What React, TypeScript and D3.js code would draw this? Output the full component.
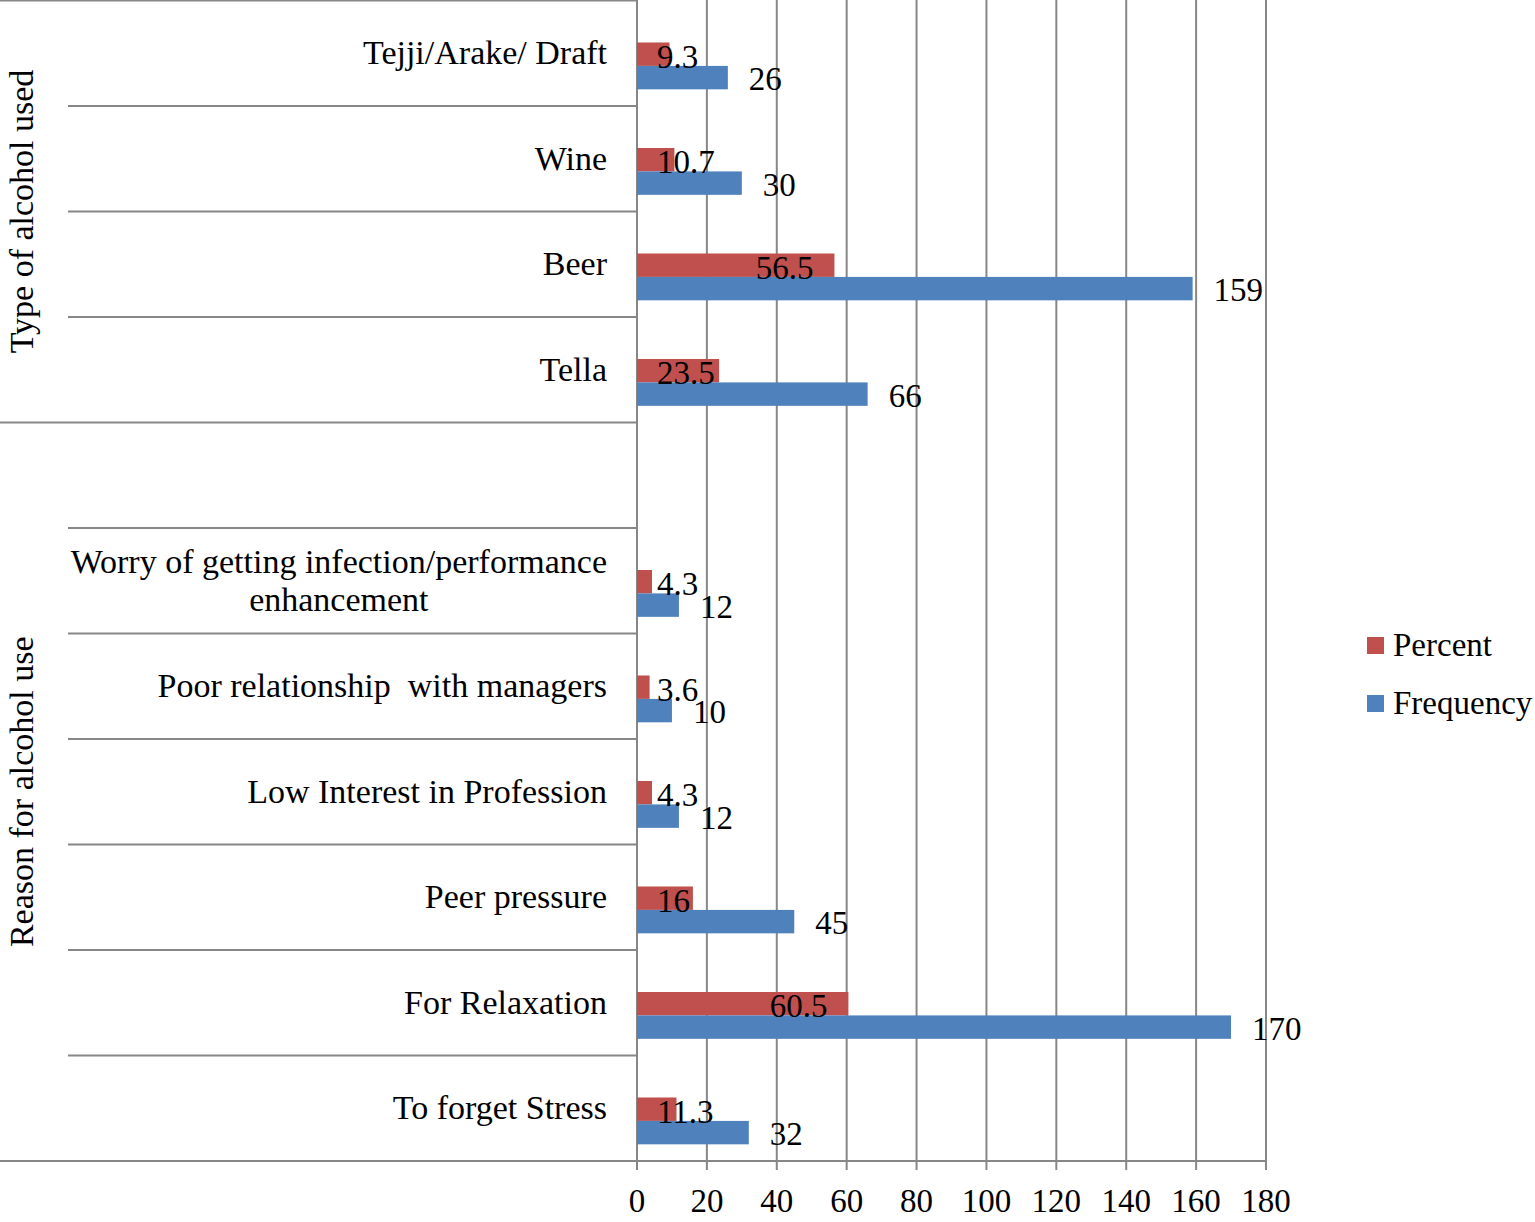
import React, { useEffect, useRef } from 'react'
import * as d3 from 'd3'

// rows from top to bottom; the empty string is the blank row between the groups
const categories = [
  'Tejji/Arake/ Draft',
  'Wine',
  'Beer',
  'Tella',
  '',
  'Worry of getting infection/performance|enhancement',
  'Poor relationship  with managers',
  'Low Interest in Profession',
  'Peer pressure',
  'For Relaxation',
  'To forget Stress'
]
const percentValues = [9.3, 10.7, 56.5, 23.5, null, 4.3, 3.6, 4.3, 16, 60.5, 11.3]
const frequencyValues = [26, 30, 159, 66, null, 12, 10, 12, 45, 170, 32]
const groupNames = ['Type of alcohol used', 'Reason for alcohol use']
const groupSpans = [[0, 3], [4, 10]]
const xTicks = [0, 20, 40, 60, 80, 100, 120, 140, 160, 180]
const seriesNames = ['Percent', 'Frequency']

const W = 1535
const H = 1222
const FONT = '"Liberation Serif", "Times New Roman", serif'
const RED = '#C0504D'
const BLUE = '#4F81BD'
const GRID = '#878787'

const App: React.FC = () => {
  const svgRef = useRef<SVGSVGElement>(null)

  useEffect(() => {
    if (!svgRef.current) return
    const svg = d3.select(svgRef.current)
    svg.selectAll('*').remove()

    const plotLeft = 637
    const plotRight = 1266
    const plotTop = 0.5
    const plotBottom = 1161
    const innerLineX = 68

    const x = d3.scaleLinear().domain([0, 180]).range([plotLeft, plotRight])
    const ids = categories.map((_, i) => String(i))
    const y = d3.scaleBand().domain(ids).range([plotTop, plotBottom]).padding(0)
    const bw = y.bandwidth()
    const barH = bw * 0.222

    const g = svg.append('g').style('font-family', FONT).style('font-size', '33px')

    // gridlines + ticks
    g.selectAll('.grid')
      .data(xTicks)
      .enter()
      .append('line')
      .attr('x1', d => x(d))
      .attr('x2', d => x(d))
      .attr('y1', 0)
      .attr('y2', plotBottom + 9)
      .attr('stroke', GRID)
      .attr('stroke-width', 2)

    g.selectAll('.tick-label')
      .data(xTicks)
      .enter()
      .append('text')
      .attr('x', d => x(d))
      .attr('y', 1212)
      .attr('text-anchor', 'middle')
      .attr('fill', '#000')
      .text(d => d)

    // category separators in the label area
    const boundaries = d3.range(0, categories.length + 1)
    boundaries.forEach(i => {
      const yy = i === categories.length ? plotBottom : (y(String(i)) as number)
      const isGroupEdge = groupSpans.some(s => s[0] === i || s[1] + 1 === i)
      g.append('line')
        .attr('x1', isGroupEdge ? 0 : innerLineX)
        .attr('x2', i === categories.length ? plotRight : plotLeft)
        .attr('y1', yy)
        .attr('y2', yy)
        .attr('stroke', GRID)
        .attr('stroke-width', 2)
    })

    // left axis
    g.append('line')
      .attr('x1', plotLeft)
      .attr('x2', plotLeft)
      .attr('y1', 0)
      .attr('y2', plotBottom)
      .attr('stroke', GRID)
      .attr('stroke-width', 2)

    // bars
    categories.forEach((_, i) => {
      const y0 = y(String(i)) as number
      const p = percentValues[i]
      const f = frequencyValues[i]
      if (p == null || f == null) return
      g.append('rect')
        .attr('x', x(0))
        .attr('y', y0 + bw * 0.398)
        .attr('width', x(p) - x(0))
        .attr('height', barH)
        .attr('fill', RED)
      g.append('rect')
        .attr('x', x(0))
        .attr('y', y0 + bw * 0.398 + barH)
        .attr('width', x(f) - x(0))
        .attr('height', barH)
        .attr('fill', BLUE)
    })

    // value labels
    categories.forEach((_, i) => {
      const y0 = y(String(i)) as number
      const p = percentValues[i]
      const f = frequencyValues[i]
      if (p == null || f == null) return
      const redBottom = y0 + bw * 0.398 + barH
      const pt = g.append('text')
        .attr('y', redBottom + 2)
        .attr('fill', '#000')
        .text(String(p))
      const pw = (pt.node() as SVGTextElement).getComputedTextLength()
      pt.attr('x', Math.max(x(0) + 20, x(p) - 21 - pw))
      g.append('text')
        .attr('x', x(f) + 21)
        .attr('y', redBottom + barH + 1)
        .attr('fill', '#000')
        .text(String(f))
    })

    // category labels
    categories.forEach((c, i) => {
      if (!c) return
      const cy = (y(String(i)) as number) + bw / 2
      const lines = c.split('|')
      if (lines.length === 1) {
        g.append('text')
          .attr('x', 607)
          .attr('y', cy + 11)
          .attr('text-anchor', 'end')
          .style('white-space', 'pre')
          .style('font-size', '34px')
          .attr('fill', '#000')
          .text(c)
      } else {
        const t = g.append('text').attr('fill', '#000').attr('text-anchor', 'middle').style('font-size', '34px')
        const spans = lines.map((l, k) =>
          t.append('tspan')
            .attr('y', cy + 11 + (k - (lines.length - 1) / 2) * 38)
            .text(l)
        )
        const maxW = d3.max(spans, s => (s.node() as SVGTSpanElement).getComputedTextLength()) || 0
        spans.forEach(s => s.attr('x', 607 - maxW / 2))
      }
    })

    // group labels
    groupNames.forEach((name, k) => {
      const top = y(String(groupSpans[k][0])) as number
      const last = groupSpans[k][1]
      const bottom = last === categories.length - 1 ? plotBottom : (y(String(last + 1)) as number)
      g.append('text')
        .attr('transform', `translate(33, ${(top + bottom) / 2}) rotate(-90)`)
        .attr('text-anchor', 'middle')
        .style('font-size', '34px')
        .attr('fill', '#000')
        .text(name)
    })

    // legend
    const legend = g.append('g').attr('transform', 'translate(1367, 637)')
    seriesNames.forEach((s, k) => {
      legend.append('rect')
        .attr('x', 0)
        .attr('y', k * 58)
        .attr('width', 17)
        .attr('height', 17)
        .attr('fill', k === 0 ? RED : BLUE)
      legend.append('text')
        .attr('x', 26)
        .attr('y', k * 58 + 19)
        .attr('fill', '#000')
        .text(s)
    })
  }, [])

  return (
    <svg
      ref={svgRef}
      width={W}
      height={H}
      style={{ position: 'absolute', top: 0, left: 0, background: '#fff' }}
    />
  )
}

export default App
